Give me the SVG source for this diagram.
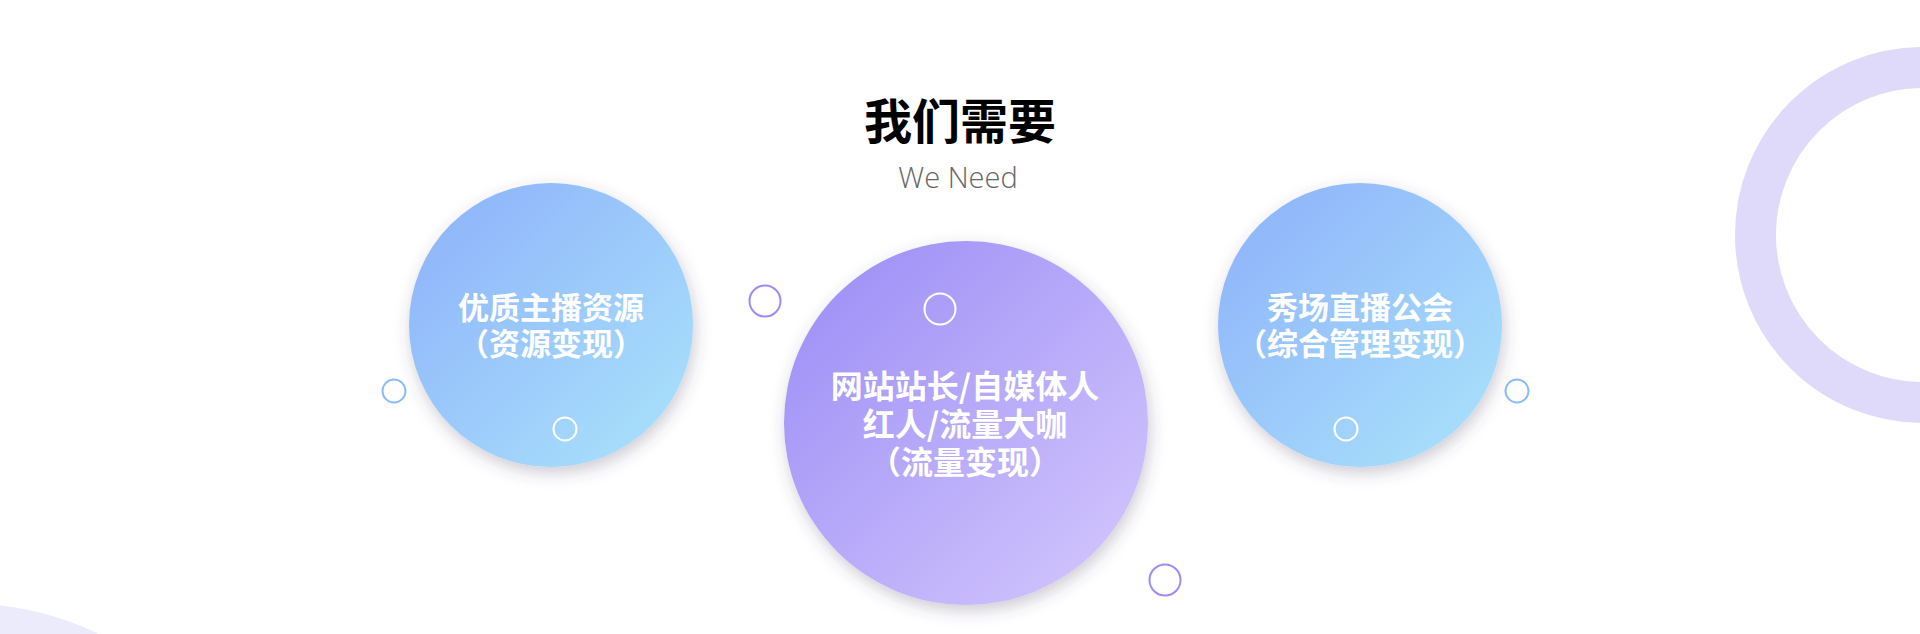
<svg xmlns="http://www.w3.org/2000/svg" width="1920" height="634" viewBox="0 0 1920 634">
<defs>
<linearGradient id="gBlue" x1="0" y1="0" x2="1" y2="1">
<stop offset="0" stop-color="#8cb0fa"/>
<stop offset="1" stop-color="#abe4fb"/>
</linearGradient>
<linearGradient id="gPurple" x1="0" y1="0" x2="1" y2="1">
<stop offset="0" stop-color="#998bf5"/>
<stop offset="1" stop-color="#d6c9fd"/>
</linearGradient>
<filter id="shadow" x="-30%" y="-30%" width="160%" height="160%">
<feDropShadow dx="2" dy="6" stdDeviation="8" flood-color="#4a3f6b" flood-opacity="0.28"/>
</filter>
<style>
.cn{font-family:"Noto Sans CJK SC","Noto Sans",sans-serif;font-weight:700;fill:#ffffff;text-anchor:middle}
.ring-out-blue{fill:none;stroke:#8cbcf8;stroke-width:2}
.ring-out-purple{fill:none;stroke:#9c8cf6;stroke-width:2}
.ring-in{fill:none;stroke:#ffffff;stroke-width:2}
</style>
</defs>
<rect width="1920" height="634" fill="#ffffff"/>
<g id="decor">
<circle cx="1923" cy="235" r="167.5" fill="none" stroke="#dfdafa" stroke-width="41"/>
<circle cx="-30" cy="894" r="290" fill="#ecebfc"/>
</g>
<g id="title">
<text x="960" y="139" font-family="'Noto Sans CJK SC',sans-serif" font-weight="700" font-size="48" fill="#000000" text-anchor="middle">我们需要</text>
<text x="958" y="188" font-family="'Open Sans','Noto Sans',sans-serif" font-weight="300" font-size="29" fill="#666666" text-anchor="middle">We Need</text>
</g>
<g id="node-left">
<circle cx="551" cy="325" r="142" fill="url(#gBlue)" filter="url(#shadow)"/>
<circle class="ring-in" cx="565" cy="429" r="11.5"/>
<circle class="ring-out-blue" cx="394" cy="391" r="11.5"/>
<text class="cn" x="551" y="319" font-size="31">优质主播资源</text>
<text class="cn" x="551" y="355" font-size="31">（资源变现）</text>
</g>
<g id="node-center">
<circle cx="966" cy="423" r="182" fill="url(#gPurple)" filter="url(#shadow)"/>
<circle class="ring-in" cx="940" cy="309" r="15.5"/>
<circle class="ring-out-purple" cx="765" cy="301" r="15.5"/>
<circle class="ring-out-purple" cx="1165" cy="580" r="15.5"/>
<text class="cn" x="965" y="398" font-size="32">网站站长/自媒体人</text>
<text class="cn" x="965" y="436" font-size="32">红人/流量大咖</text>
<text class="cn" x="965" y="474" font-size="32">（流量变现）</text>
</g>
<g id="node-right">
<circle cx="1360" cy="325" r="142" fill="url(#gBlue)" filter="url(#shadow)"/>
<circle class="ring-in" cx="1346" cy="429" r="11.5"/>
<circle class="ring-out-blue" cx="1517" cy="391" r="11.5"/>
<text class="cn" x="1360" y="319" font-size="31">秀场直播公会</text>
<text class="cn" x="1360" y="355" font-size="31">（综合管理变现）</text>
</g>
<g id="connectors"/>
</svg>
